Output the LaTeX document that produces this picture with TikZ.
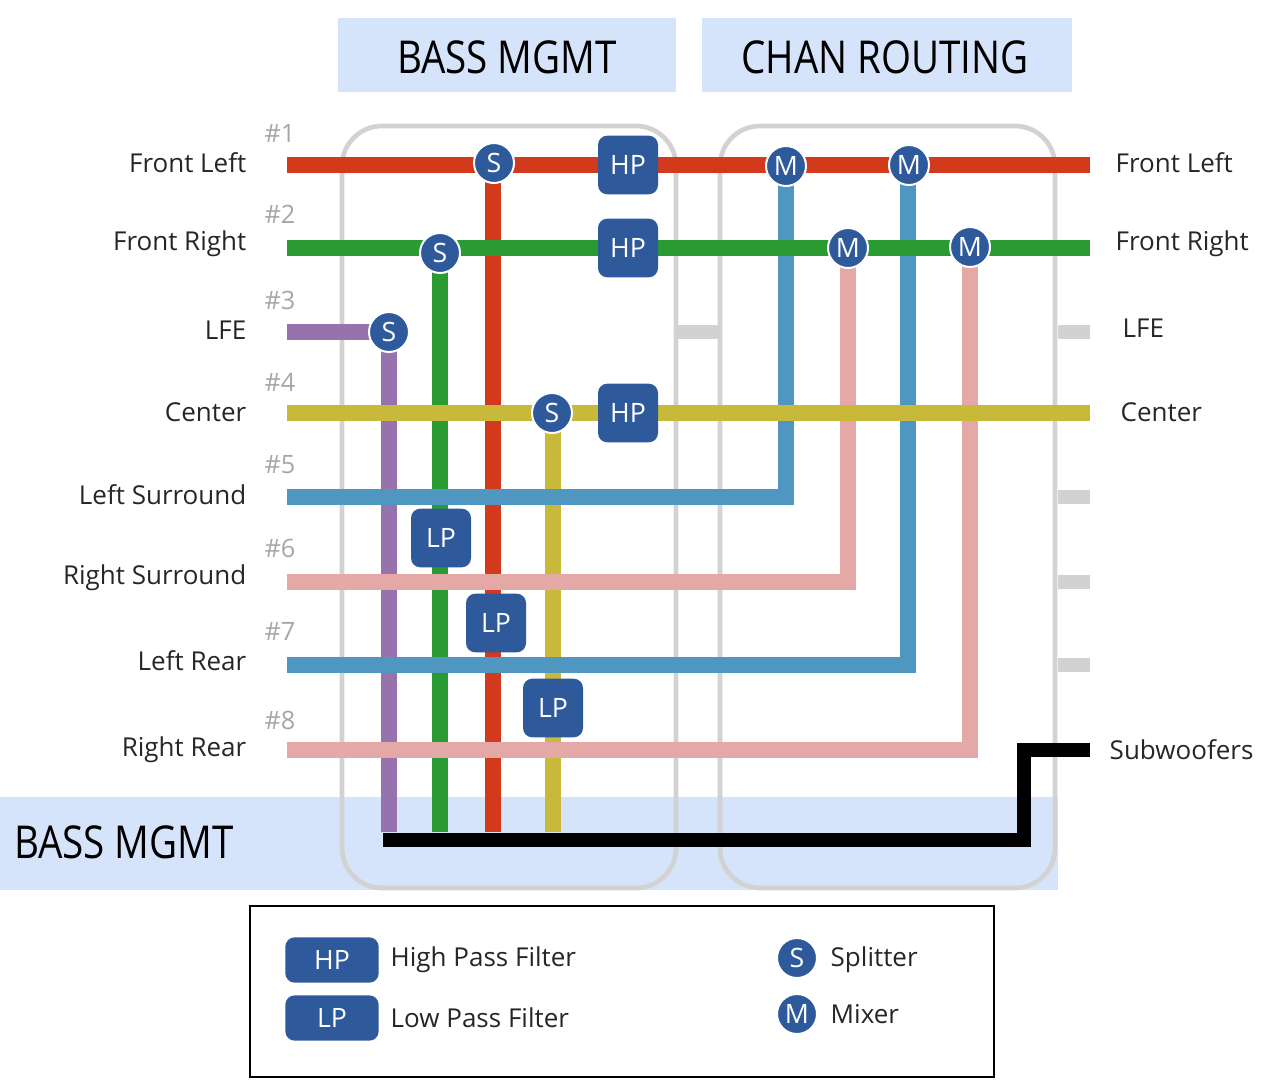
\documentclass[tikz,border=0pt]{standalone}
\usepackage{fontspec}
\setmainfont{Open Sans}
\definecolor{cred}{HTML}{D33A1C}
\definecolor{cgreen}{HTML}{2A9A33}
\definecolor{cpurple}{HTML}{9673AD}
\definecolor{cyellow}{HTML}{C9B93A}
\definecolor{cblue}{HTML}{4F97C0}
\definecolor{cpink}{HTML}{E4A9A6}
\definecolor{cnode}{HTML}{2E5A9C}
\definecolor{chead}{HTML}{D6E4FB}
\definecolor{cgray}{HTML}{D2D2D2}
\begin{document}
\begin{tikzpicture}[x=0.75pt,y=-0.75pt,
  sig/.style={line width=12pt},
  stub/.style={line width=10pt,cgray},
  sp/.style={circle,fill=cnode,draw=white,line width=1.5pt,minimum size=30pt,inner sep=0pt,text=white,font=\fontsize{20}{20}\selectfont},
  flt/.style={rounded corners=7pt,fill=cnode,minimum width=45pt,minimum height=44pt,inner sep=0pt,text=white,font=\fontsize{20}{20}\selectfont},
  lab/.style={font=\fontsize{19.5}{20}\selectfont,text=black!85},
  num/.style={font=\fontsize{19}{20}\selectfont,text=black!35},
  hd/.style={font=\fontsize{34}{36}\selectfont,xscale=0.85}]
\useasboundingbox (0,0) rectangle (1280,1088);
% headers
\fill[chead] (338,18) rectangle (676,92);
\fill[chead] (702,18) rectangle (1072,92);
\node[hd] (h1) at (507,57) {BASS MGMT};
\node[hd] (h2) at (885,57) {CHAN ROUTING};
\fill[chead] (0,797) rectangle (1058,890);
\node[hd,anchor=west] (h3) at (10,842) {BASS MGMT};
% boxes
\draw[cgray,line width=3.5pt,rounded corners=30pt] (342,126) rectangle (676,888);
\draw[cgray,line width=3.5pt,rounded corners=30pt] (720,126) rectangle (1055,888);
% stubs
\draw[stub] (678,332) -- (718,332);
\foreach \y in {332,497,582,665} \draw[stub] (1058,\y) -- (1090,\y);
% verticals in bass mgmt
\draw[sig,cpurple] (389,332) -- (389,832);
\draw[sig,cgreen] (440,252) -- (440,832);
\draw[sig,cred] (493,165) -- (493,832);
\draw[sig,cyellow] (553,413) -- (553,832);
% routed lines
\draw[sig,cblue] (287,497) -- (786,497) -- (786,165);
\draw[sig,cpink] (287,582) -- (848,582) -- (848,248);
\draw[sig,cblue] (287,665) -- (908,665) -- (908,165);
\draw[sig,cpink] (287,750) -- (970,750) -- (970,248);
% main horizontals
\draw[sig,cred] (287,165) -- (1090,165);
\draw[sig,cgreen] (287,248) -- (1090,248);
\draw[sig,cpurple] (287,332) -- (389,332);
\draw[sig,cyellow] (287,413) -- (1090,413);
% subwoofer
\draw[line width=11pt,black] (383,840) -- (1024,840) -- (1024,750) -- (1090,750);
% splitters
\node[sp] (s1) at (494,163) {S};
\node[sp] (s2) at (440,253) {S};
\node[sp] (s3) at (389,332) {S};
\node[sp] (s4) at (552,413) {S};
\node[flt] (hp1) at (628,165) {HP};
\node[flt] (hp2) at (628,248) {HP};
\node[flt] (hp3) at (628,413) {HP};
\node[flt] (lp1) at (441,538) {LP};
\node[flt] (lp2) at (496,623) {LP};
\node[flt] (lp3) at (553,708) {LP};
\node[sp] (m1) at (786,166) {M};
\node[sp] (m2) at (909,165) {M};
\node[sp] (m3) at (848,248) {M};
\node[sp] (m4) at (970,247) {M};
% left labels
\foreach \n/\y/\t in {1/163/Front Left,2/244/Front Right,3/330/LFE,4/412/Center,5/495/Left Surround,6/578/Right Surround,7/661/Left Rear,8/750/Right Rear}{
  \node[lab,anchor=east] (l\n) at (251,\y) {\t};
  \node[num] (n\n) at (280,\y-30) {\#\n};
}
% right labels
\node[lab,anchor=west] (r1) at (1111,163) {Front Left};
\node[lab,anchor=west] (r2) at (1111,244) {Front Right};
\node[lab,anchor=west] (r3) at (1118,328) {LFE};
\node[lab,anchor=west] (r4) at (1116,412) {Center};
\node[lab,anchor=west] (r5) at (1105,750) {Subwoofers};
% legend
\draw[line width=1.2pt] (250,906) rectangle (994,1077);
\node[flt,minimum width=70pt,minimum height=34pt] (lh) at (332,960) {HP};
\node[flt,minimum width=70pt,minimum height=34pt] (ll) at (332,1018) {LP};
\node[lab,anchor=west] (lht) at (386,960) {High Pass Filter};
\node[lab,anchor=west] (llt) at (386,1018) {Low Pass Filter};
\node[sp] (ls) at (797,958) {S};
\node[sp] (lm) at (797,1014) {M};
\node[lab,anchor=west] (lst) at (826,960) {Splitter};
\node[lab,anchor=west] (lmt) at (826,1014) {Mixer};
\end{tikzpicture}
\end{document}
